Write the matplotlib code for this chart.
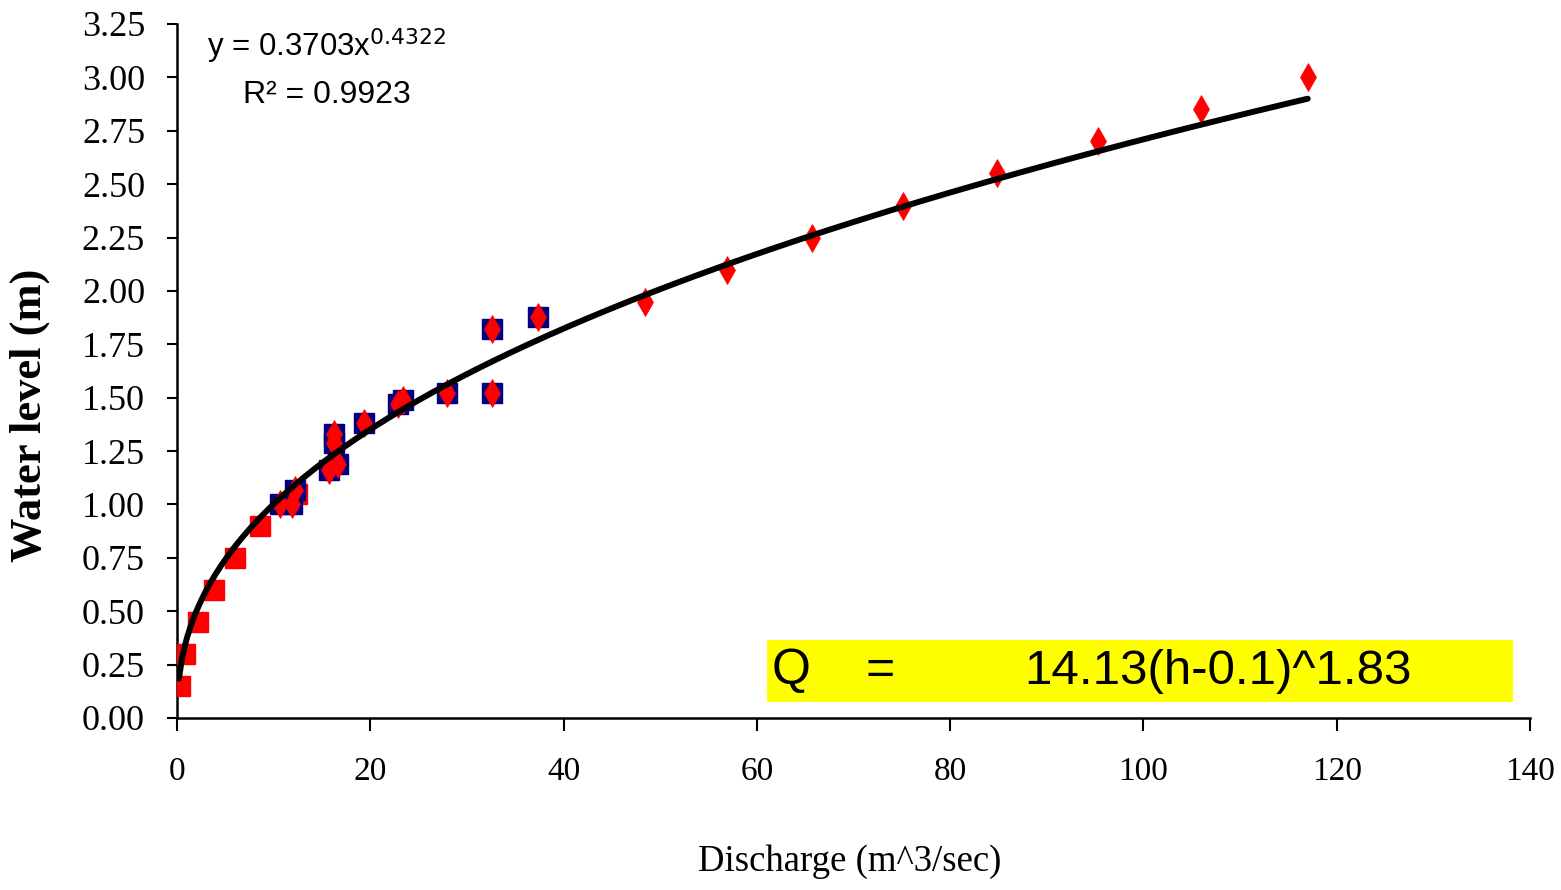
import numpy as np
import matplotlib
matplotlib.use("Agg")
import matplotlib.pyplot as plt

# ---- data ----
# computed points at low stage (red squares)
low_q = [0.3, 0.8, 2.2, 3.8, 6.0, 8.6, 12.4]
low_h = [0.15, 0.30, 0.45, 0.60, 0.75, 0.90, 1.05]

# measured points (navy squares with red diamonds)
meas_q = [10.7, 11.9, 12.2, 15.7, 16.7, 16.2, 16.2, 19.3, 22.9, 23.4, 27.9, 32.6, 32.6, 37.4]
meas_h = [1.00, 1.00, 1.07, 1.16, 1.19, 1.29, 1.33, 1.38, 1.47, 1.49, 1.52, 1.52, 1.82, 1.88]

# computed points at high stage (red diamonds)
high_q = [48.4, 56.9, 65.7, 75.1, 84.9, 95.3, 106.0, 117.0]
high_h = [1.95, 2.10, 2.25, 2.40, 2.55, 2.70, 2.85, 3.00]

# power trendline coefficients
fit_a = 0.3703
fit_b = 0.4322
fit_range = [0.2, 117.0]

x_ticks = [0, 20, 40, 60, 80, 100, 120, 140]
y_ticks = [0.00, 0.25, 0.50, 0.75, 1.00, 1.25, 1.50, 1.75, 2.00, 2.25, 2.50, 2.75, 3.00, 3.25]

W, H = 1561, 890
fig = plt.figure(figsize=(W / 100, H / 100), dpi=100)
ax = fig.add_axes([177 / W, 1 - 718 / H, (1530 - 177) / W, (718 - 24) / H])

serif = "Liberation Serif"
sans = "Liberation Sans"

ax.plot(low_q, low_h, linestyle="none", marker="s", markersize=14.5,
        markerfacecolor="#ff0000", markeredgecolor="#ff0000", zorder=3)
ax.plot(meas_q, meas_h, linestyle="none", marker="s", markersize=14.5,
        markerfacecolor="#000080", markeredgecolor="#000080", zorder=3)
ax.plot(meas_q, meas_h, linestyle="none", marker="d", markersize=14,
        markerfacecolor="#ff0000", markeredgecolor="#ff0000", markeredgewidth=0.5, zorder=4)
ax.plot(high_q, high_h, linestyle="none", marker="d", markersize=14,
        markerfacecolor="#ff0000", markeredgecolor="#ff0000", markeredgewidth=0.5, zorder=4)

xf = np.linspace(fit_range[0], fit_range[1], 400)
ax.plot(xf, fit_a * xf ** fit_b, color="black", linewidth=4.3, zorder=5,
        solid_capstyle="round")

ax.set_xlim(0, 140)
ax.set_ylim(0, 3.25)
ax.set_xticks(x_ticks)
ax.set_yticks(y_ticks)
ax.set_xticklabels([str(v) for v in x_ticks], fontfamily=serif, fontsize=24)
ax.set_yticklabels([f"{v:.2f}" for v in y_ticks], fontfamily=serif, fontsize=26)
ax.tick_params(axis="x", direction="out", length=9, width=1.5, pad=19)
ax.tick_params(axis="y", direction="out", length=7, width=1.5, pad=16)
for s in ["top", "right"]:
    ax.spines[s].set_visible(False)
for s in ["left", "bottom"]:
    ax.spines[s].set_linewidth(1.8)
ax.spines["bottom"].set_bounds(0, 140)

# annotations
fig.text(327 / W, 1 - 46 / H, r"y = 0.3703x$^{0.4322}$", fontfamily=sans, fontsize=22.5,
         ha="center", va="center")
fig.text(327 / W, 1 - 95 / H, "R² = 0.9923", fontfamily=sans, fontsize=23,
         ha="center", va="center")

box = plt.Rectangle((767 / W, 1 - 702 / H), (1513 - 767) / W, (702 - 640) / H,
                    transform=fig.transFigure, facecolor="#ffff00", edgecolor="none", zorder=6)
fig.add_artist(box)
fig.text(772 / W, 1 - 671 / H, "Q", fontfamily=sans, fontsize=36, ha="left", va="center", zorder=7)
fig.text(880 / W, 1 - 671 / H, "=", fontfamily=sans, fontsize=36, ha="center", va="center", zorder=7)
fig.text(1218 / W, 1 - 671 / H, "14.13(h-0.1)^1.83", fontfamily=sans, fontsize=35.5,
         ha="center", va="center", zorder=7)

fig.text(850 / W, 1 - 862 / H, "Discharge (m^3/sec)", fontfamily=serif, fontsize=26.5,
         ha="center", va="center")
fig.text(30 / W, 1 - 415 / H, "Water level (m)", fontfamily=serif, fontsize=32,
         fontweight="bold", rotation=90, ha="center", va="center")

fig.savefig("out.png", dpi=100)
